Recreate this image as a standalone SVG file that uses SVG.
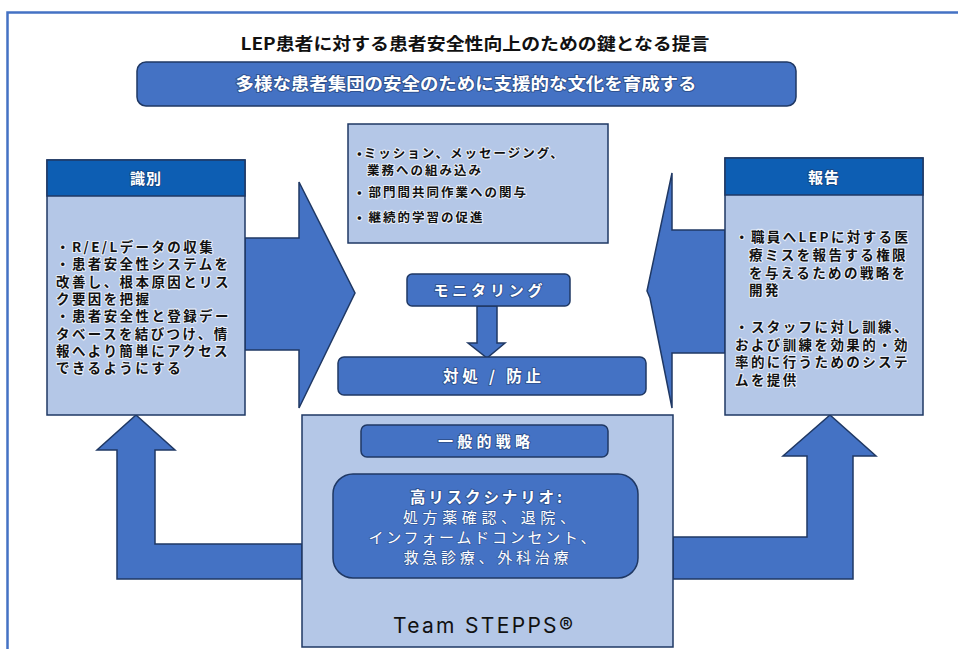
<svg xmlns="http://www.w3.org/2000/svg" width="958" height="649" viewBox="0 0 958 649">
<style>
.jp{font-family:"Noto Sans CJK JP","Noto Sans",sans-serif}
.bl{fill:#4472C4;stroke:#1F3864;stroke-width:1.5}
.lt{fill:#B4C7E7;stroke:#1F3864;stroke-width:1.5}
.hd{fill:#0D5EB3;stroke:#1F3864;stroke-width:1.5}
.wt{fill:#fff;font-weight:bold;stroke:#1F3864;stroke-width:2;stroke-opacity:.55;paint-order:stroke;stroke-linejoin:round}
.dk{fill:#111;font-weight:bold;font-size:13.5px;letter-spacing:2.4px;stroke:#fff;stroke-width:2.2;stroke-opacity:.7;paint-order:stroke;stroke-linejoin:round}
.ck{font-size:12.5px;letter-spacing:2px}
.wr{fill:#fff;font-size:15px;stroke:#1F3864;stroke-width:1.5;stroke-opacity:.4;paint-order:stroke}
</style>
<rect width="958" height="649" fill="#fff"/>
<path d="M7.5 649V12.5H958" fill="none" stroke="#4472C4" stroke-width="2.5"/>
<g id="title"><text class="jp" x="475" y="50" text-anchor="middle" font-size="17" font-weight="bold" fill="#111" textLength="469" lengthAdjust="spacingAndGlyphs">LEP患者に対する患者安全性向上のための鍵となる提言</text></g>
<g id="banner"><rect class="bl" x="137" y="62" width="659" height="44" rx="9"/><text class="jp wt" x="466" y="90" text-anchor="middle" font-size="17" textLength="461" lengthAdjust="spacingAndGlyphs">多様な患者集団の安全のために支援的な文化を育成する</text></g>
<g id="connectors">
<polygon class="bl" points="245,238 299,238 299,182 355,293 299,408 299,350 245,350"/>
<polygon class="bl" points="725,230 672,230 672,173 647,291 650,298 672,408 672,353 725,353"/>
<polygon class="bl" points="302,544 155,544 155,450 175,450 136,415 97,450 117,450 117,579 302,579"/>
<polygon class="bl" points="673,537 807,537 807,456 783,456 830,415 876,456 853,456 853,579 673,579"/>
<polygon class="bl" points="477,306 497,306 497,343 505,343 487,358 468,343 477,343"/>
</g>
<g id="identify">
<rect class="lt" x="47" y="160" width="198" height="255"/>
<rect class="hd" x="47" y="160" width="198" height="36"/>
<text class="jp wt" x="146" y="184" text-anchor="middle" font-size="15" letter-spacing="1">識別</text>
<text class="jp dk"><tspan x="56" y="252">・R/E/Lデータの収集</tspan><tspan x="56" y="269">・患者安全性システムを</tspan><tspan x="56" y="287">改善し、根本原因とリス</tspan><tspan x="56" y="304">ク要因を把握</tspan><tspan x="56" y="321">・患者安全性と登録デー</tspan><tspan x="56" y="339">タベースを結びつけ、情</tspan><tspan x="56" y="356">報へより簡単にアクセス</tspan><tspan x="56" y="373">できるようにする</tspan></text>
</g>
<g id="culture">
<rect class="lt" x="348" y="124" width="260" height="119"/>
<text class="jp dk ck"><tspan x="357" y="158">•ミッション、メッセージング、</tspan><tspan x="367" y="175">業務への組み込み</tspan><tspan x="357" y="197">• 部門間共同作業への関与</tspan><tspan x="357" y="222">• 継続的学習の促進</tspan></text>
</g>
<g id="monitoring"><rect class="bl" x="407" y="274" width="163" height="32" rx="5"/><text class="jp wt" x="488" y="296" text-anchor="middle" font-size="15" textLength="109" lengthAdjust="spacing">モニタリング</text></g>
<g id="response"><rect class="bl" x="338" y="357" width="308" height="38" rx="6"/><text class="jp wt" x="492" y="382" text-anchor="middle" font-size="15.5" textLength="98" lengthAdjust="spacing">対処 / 防止</text></g>
<g id="report">
<rect class="lt" x="725" y="158" width="198" height="257"/>
<rect class="hd" x="725" y="158" width="198" height="37"/>
<text class="jp wt" x="824" y="183" text-anchor="middle" font-size="15" letter-spacing="1">報告</text>
<text class="jp dk"><tspan x="735" y="242">・職員へLEPに対する医</tspan><tspan x="749" y="260">療ミスを報告する権限</tspan><tspan x="749" y="278">を与えるための戦略を</tspan><tspan x="749" y="295">開発</tspan><tspan x="735" y="332">・スタッフに対し訓練、</tspan><tspan x="735" y="350">および訓練を効果的・効</tspan><tspan x="735" y="367">率的に行うためのシステ</tspan><tspan x="735" y="385">ムを提供</tspan></text>
</g>
<g id="teamstepps">
<rect class="lt" x="302" y="415" width="371" height="232"/>
<rect class="bl" x="361" y="425" width="247" height="32" rx="6"/>
<text class="jp wt" x="484" y="447" text-anchor="middle" font-size="15" textLength="92" lengthAdjust="spacing">一般的戦略</text>
<rect class="bl" x="333" y="474" width="305" height="104" rx="20"/>
<text class="jp wt" x="486" y="503" text-anchor="middle" font-size="15.5" textLength="152" lengthAdjust="spacing">高リスクシナリオ:</text>
<text class="jp wr" text-anchor="middle"><tspan x="489" y="523" textLength="172" lengthAdjust="spacing">処方薬確認、退院、</tspan><tspan x="482" y="543" textLength="227" lengthAdjust="spacing">インフォームドコンセント、</tspan><tspan x="486" y="563" textLength="165" lengthAdjust="spacing">救急診療、外科治療</tspan></text>
<text x="483" y="633" text-anchor="middle" font-family="Inter,'Liberation Sans',sans-serif" font-size="21" fill="#111" textLength="180" lengthAdjust="spacing">Team STEPPS®</text>
</g>
</svg>
